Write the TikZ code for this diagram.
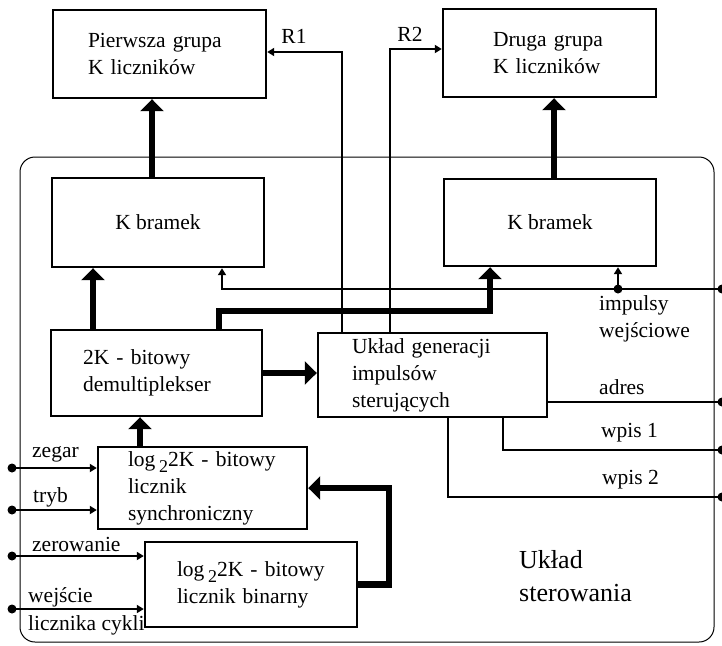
\documentclass[tikz,border=0pt]{standalone}
\usepackage{fontspec}
\setmainfont{Liberation Serif}
\usetikzlibrary{arrows.meta,calc}
\newcommand{\logtwo}{log\,\raisebox{-0.3em}{\fontsize{18}{18}\selectfont 2}2K}
\begin{document}
\begin{tikzpicture}[x=1pt,y=-1pt,
  every node/.style={font=\fontsize{21.5}{27}\selectfont},
  box/.style={draw, line width=2.4pt, inner ysep=0pt},
  lbox/.style={box, align=left},
  bus/.style={line width=6.5pt, -{Triangle[length=12pt,width=23pt]}},
  sig/.style={line width=2pt, -{Triangle[length=7pt,width=8pt]}},
  wire/.style={line width=2pt},
  dot/.style={circle, fill, inner sep=0pt, minimum size=9pt},
  lbl/.style={anchor=west, inner sep=0pt, align=left}
]
\useasboundingbox (0,0) rectangle (722,645);
\fill[white] (0,0) rectangle (722,645);

% control unit frame
\draw[line width=1pt, rounded corners=15pt] (20,157) rectangle (714,642);

% counter groups
\node[lbox, minimum width=213pt, minimum height=88pt, text width=143pt, inner xsep=35pt] (p1) at (159.5,54) {Pierwsza grupa\\K liczników};
\node[lbox, minimum width=213pt, minimum height=88pt, text width=113pt, inner xsep=50pt] (p2) at (549.5,53) {Druga grupa\\K liczników};

% gates
\node[box, minimum width=212pt, minimum height=89pt] (g1) at (158,222.5) {K bramek};
\node[box, minimum width=212pt, minimum height=87pt] (g2) at (550,222.5) {K bramek};

% demultiplexer and pulse generator
\node[lbox, minimum width=211pt, minimum height=86pt, text width=147pt, inner xsep=32pt] (dmx) at (156.5,373) {2K - bitowy\\demultiplekser};
\node[lbox, minimum width=229pt, minimum height=84pt, text width=161pt, inner xsep=34pt] (gen) at (432.5,375) {Układ generacji\\impulsów\\sterujących};

% counters
\node[lbox, minimum width=209pt, minimum height=82pt, text width=149pt, inner xsep=30pt] (sync) at (202.5,488) {\logtwo{} - bitowy\\licznik\\synchroniczny};
\node[lbox, minimum width=212pt, minimum height=85pt, text width=148pt, inner xsep=32pt] (bin) at (251,584.5) {\logtwo{} - bitowy\\licznik binarny};

% wide data paths
\draw[bus] ([xshift=-6pt]g1.north) -- ([xshift=-6pt]g1.north |- p1.south);
\draw[bus] ([xshift=4pt]g2.north) -- ([xshift=4pt]g2.north |- p2.south);
\draw[bus] ([xshift=-63.5pt]dmx.north) -- ([xshift=-63.5pt]dmx.north |- g1.south);
\coordinate (busc) at (490,311);
\draw[bus] ([xshift=62.5pt]dmx.north) |- (busc) -- (busc |- g2.south);
\draw[bus] (dmx.east) -- (dmx.east -| gen.west);
\draw[bus] ([xshift=-62.5pt]sync.north) -- ([xshift=-62.5pt]sync.north |- dmx.south);
\draw[bus] (bin.east) -| ($(sync.east)+(81,0)$) -- (sync.east);

% reset lines
\draw[sig] ([xshift=-90.5pt]gen.north) |- ([yshift=2pt]p1.east);
\draw[sig] ([xshift=-42.5pt]gen.north) |- ([yshift=4pt]p2.west);
\node (r1) at (294,36) {R1};
\node (r2) at (410,34) {R2};

% input pulses
\coordinate (inR) at (722,289);
\coordinate (tap) at (618,289);
\draw[sig] (inR) -| ([xshift=64pt]g1.south);
\draw[sig] (tap) -- (tap |- g2.south);
\node[dot] at (inR) {};
\node[dot] at (tap) {};
\node[lbl] (imp) at (599,318.5) {impulsy\\wejściowe};

% control outputs
\coordinate (adr) at (722,402);
\coordinate (w1) at (722,450);
\coordinate (w2) at (722,497);
\draw[wire] (adr -| gen.east) -- (adr);
\draw[wire] ([xshift=70.5pt]gen.south) |- (w1);
\draw[wire] ([xshift=15.5pt]gen.south) |- (w2);
\node[dot] at (adr) {};
\node[dot] at (w1) {};
\node[dot] at (w2) {};
\node[lbl] (ladr) at (599,387) {adres};
\node[lbl] (lw1) at (601,433) {wpis 1};
\node[lbl] (lw2) at (602,480) {wpis 2};

% external inputs
\coordinate (zeg) at (12,468);
\coordinate (tr) at (12,510);
\coordinate (zer) at (12,556);
\coordinate (wej) at (12,609);
\draw[sig] (zeg) -- (zeg -| sync.west);
\draw[sig] (tr) -- (tr -| sync.west);
\draw[sig] (zer) -- (zer -| bin.west);
\draw[sig] (wej) -- (wej -| bin.west);
\foreach \c in {zeg,tr,zer,wej} \node[dot] at (\c) {};
\node[lbl] (lzeg) at (32,454) {zegar};
\node[lbl] (ltr) at (33,497) {tryb};
\node[lbl] (lzer) at (32,544) {zerowanie};
\node[lbl] (lwej) at (28,597) {wejście};
\node[lbl] (llc) at (28,625) {licznika cykli};

% unit title
\node[lbl, font=\fontsize{26}{33}\selectfont] (title) at (519,576) {Układ\\sterowania};
\end{tikzpicture}
\end{document}
